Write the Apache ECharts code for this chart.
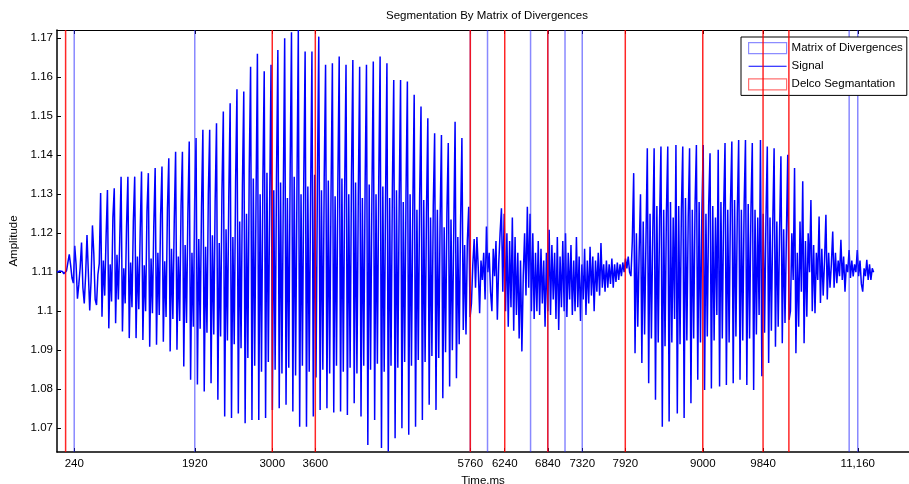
<!DOCTYPE html>
<html>
<head>
<meta charset="utf-8">
<script src="https://cdn.jsdelivr.net/npm/echarts@6/dist/echarts.min.js"></script>
<style>
html,body{margin:0;padding:0;background:#fff;}
#chart{width:909px;height:484px;}
</style>
</head>
<body>
<div id="chart"></div>
<script>
// ---- data ----
const signalStepMs = 19;           // spacing of signal samples (ms)
const signalOnset = [
1.1100,1.1097,1.1103,1.1098,1.1102,1.1096,1.1101,1.1104,
1.1125,1.1146,1.1118,1.1085,1.1072,
1.1168,1.1120,1.1032,1.1068,1.1112,
1.1176,1.1060,1.1020,1.1092,
1.1195,1.1098,1.1002,1.1078,
1.1220,1.1148,1.1030,1.1016,1.1094,1.1122
];
const signalVowel1 = [
1.1303,1.0986,1.1130,1.1040,1.1190,
1.1311,1.0956,1.1120,1.1025,1.1240,
1.1315,1.0969,1.1145,1.1030,1.1180,
1.1345,1.0948,1.1110,1.1020,1.1215,
1.1345,1.0931,1.1125,1.1010,1.1230,
1.1345,1.0931,1.1140,1.1005,1.1200,
1.1358,1.0926,1.1118,1.1000,1.1255,
1.1354,1.0909,1.1135,1.0995,1.1220,
1.1367,1.0914,1.1150,1.0990,1.1245,
1.1371,1.0922,1.1128,1.0985,1.1260,
1.1392,1.0897,1.1160,1.0980,1.1230,
1.1409,1.0901,1.1140,1.0975,1.1270,
1.1409,1.0858,1.1170,1.0970,1.1250,
1.1435,1.0824,1.1150,1.0960,1.1285,
1.1444,1.0812,1.1185,1.0955,1.1265,
1.1465,1.0794,1.1165,1.0945,1.1300,
1.1465,1.0815,1.1195,1.0940,1.1280,
1.1482,1.0773,1.1175,1.0935,1.1310,
1.1512,1.0730,1.1210,1.0925,1.1295,
1.1533,1.0726,1.1190,1.0915,1.1330,
1.1569,1.0738,1.1230,1.0905,1.1320,
1.1563,1.0713,1.1250,1.0880,1.1360,
1.1627,1.0721,1.1340,1.0860,1.1290,
1.1660,1.0721,1.1300,1.0845,1.1330,
1.1615,1.0726,1.1355,1.0870,1.1280,
1.1632,1.0747,1.1310,1.0850,1.1340,
1.1670,1.0751,1.1330,1.0840,1.1300,
1.1700,1.0760,1.1290,1.0855,1.1350,
1.1715,1.0743,1.1345,1.0835,1.1310,
1.1721,1.0704,1.1300,1.0860,1.1335,
1.1666,1.0704,1.1320,1.0845,1.1290,
1.1666,1.0730,1.1350,1.0830,1.1320,
1.1704,1.0747,1.1310,1.0850,1.1340,
1.1632,1.0751,1.1335,1.0840,1.1300,
1.1636,1.0740,1.1295,1.0860,1.1330,
1.1653,1.0743,1.1340,1.0845,1.1310,
1.1632,1.0734,1.1300,1.0855,1.1345,
1.1644,1.0764,1.1330,1.0840,1.1295,
1.1627,1.0730,1.1290,1.0860,1.1320,
1.1632,1.0657,1.1325,1.0850,1.1300,
1.1640,1.0721,1.1300,1.0865,1.1335,
1.1653,1.0649,1.1320,1.0845,1.1290,
1.1636,1.0640,1.1290,1.0860,1.1315,
1.1593,1.0674,1.1310,1.0855,1.1280,
1.1593,1.0700,1.1280,1.0870,1.1300,
1.1589,1.0683,1.1300,1.0860,1.1265,
1.1555,1.0704,1.1260,1.0875,1.1290,
1.1525,1.0721,1.1285,1.0870,1.1250,
1.1495,1.0760,1.1240,1.0885,1.1270,
1.1456,1.0747,1.1260,1.0880,1.1230,
1.1452,1.0777,1.1215,1.0895,1.1250,
1.1431,1.0807,1.1235,1.0900,1.1200,
1.1486,1.0828,1.1190,1.0915,1.1220,
1.1444,1.0952,1.1170,1.0940,1.1180
];
const signalNoise = [
1.1268,1.0985,1.1020,1.1120,1.1185,1.1060,1.1190,1.1110,1.0995,1.1130,
1.1080,1.1150,1.1030,1.1217,1.1100,1.1150,1.1050,1.1000,1.1160,1.1090,
1.1180,1.0978,1.1120,1.1200,1.1264,1.1050,1.1250,1.1000,1.1200,1.0960,
1.1180,1.1010,1.1240,1.0950,1.1190,1.0990,1.1150,1.0930,1.1130,1.0897,
1.1090,1.1200,1.1040,1.1268,1.1060,1.1250,1.1000,1.1200,1.0980,1.1150,
1.1000,1.1180,1.0990,1.1160,1.1020,1.1130,1.0960,1.1150,1.1000,1.1209,
1.0990,1.1170,1.1030,1.1150,1.0980,1.1190,1.0952,1.1140,1.1010,1.1180,
1.1000,1.1200,1.0985,1.1150,1.1030,1.1170,1.0990,1.1130,1.1000,1.1190,
1.1010,1.1140,1.0975,1.1120,1.1030,1.1160,1.0990,1.1130,1.1020,1.1165,
1.1040,1.1140,1.1000,1.1130,1.1050,1.1150,1.1040,1.1175,1.1060,1.1120,
1.1050,1.1130,1.1060,1.1120,1.1070,1.1135,1.1060,1.1120,1.1075,1.1125,
1.1080,1.1120,1.1090,1.1125,1.1100,1.1135,1.1110,1.1140,1.1100
];
const signalVowel2 = [
1.1090,1.1180,
1.1354,1.0892,1.1200,1.0960,1.1150,
1.1300,1.0867,1.1230,1.0940,1.1180,
1.1418,1.0815,1.1250,1.0930,1.1200,
1.1418,1.0773,1.1270,1.0920,1.1230,
1.1422,1.0704,1.1260,1.0910,1.1250,
1.1422,1.0717,1.1280,1.0920,1.1240,1.0980,
1.1426,1.0738,1.1270,1.0915,1.1260,
1.1422,1.0726,1.1290,1.0925,1.1240,
1.1418,1.0764,1.1260,1.0930,1.1270,
1.1426,1.0824,1.1280,1.0920,1.1250,
1.1426,1.0798,1.1250,1.0935,1.1270,
1.1405,1.0802,1.1270,1.0925,1.1240,1.0990,
1.1414,1.0807,1.1280,1.0930,1.1260,
1.1431,1.0811,1.1260,1.0920,1.1275,
1.1435,1.0815,1.1285,1.0935,1.1250,
1.1439,1.0824,1.1260,1.0925,1.1270,
1.1439,1.0811,1.1275,1.0930,1.1255,
1.1431,1.0798,1.1260,1.0940,1.1240,1.0990,
1.1439,1.0833,1.1250,1.0945,1.1230,
1.1422,1.0867,1.1240,1.0950,1.1220,
1.1418,1.0909,1.1230,1.0960,1.1200,
1.1397,1.0918,1.1210,1.0970,1.1190,
1.1401,1.0978
];
const signalTail = [
1.1000,1.1200,1.1080,1.1367,1.0892,1.1150,1.0960,1.1230,1.1050,1.1333,
1.0918,1.1180,1.0986,1.1200,1.1100,1.1285,1.1000,1.1170,1.0995,1.1150,
1.1080,1.1243,1.1021,1.1160,1.1040,1.1130,1.1247,1.1030,1.1150,1.1060,
1.1120,1.1204,1.1060,1.1150,1.1072,1.1130,1.1090,1.1183,1.1080,1.1140,
1.1050,1.1120,1.1100,1.1157,1.1085,1.1130,1.1089,1.1120,1.1100,1.1157,
1.1090,1.1130,1.1070,1.1050,1.1110,1.1090,1.1132,1.1080,1.1120,1.1080,
1.1110,1.1100
];
const matrixDivergenceMs = [240, 1920, 5760, 6000, 6600, 6840, 7080, 7320, 11040, 11160];
const delcoSegmentationMs = [120, 3000, 3600, 5760, 6240, 6840, 7920, 9000, 9840, 10200];
const xTickValues = [240, 1920, 3000, 3600, 5760, 6240, 6840, 7320, 7920, 9000, 9840, 11160];
const xTickLabels = ['240','1920','3000','3600','5760','6240','6840','7320','7920','9000','9840','11,160'];
const yTickValues = [1.07, 1.08, 1.09, 1.10, 1.11, 1.12, 1.13, 1.14, 1.15, 1.16, 1.17];
const xRange = [0, 11874];
const yRange = [1.0639, 1.1721];

// ---- build series data ----
const signalValues = [].concat(signalOnset, signalVowel1, signalNoise, signalVowel2, signalTail);
const signalData = signalValues.map((v, i) => [i * signalStepMs, v]);
function verticalLines(times) {
  const out = [];
  times.forEach(t => { out.push([t, yRange[0]], [t, yRange[1]], [t, '-']); });
  return out;
}

const FONT = 'Liberation Sans, Arial, Helvetica, sans-serif';
const txt = {fontFamily: FONT, fontSize: 11.5, color: '#000'};

const chart = echarts.init(document.getElementById('chart'), null, {renderer: 'canvas'});
chart.setOption({
  animation: false,
  backgroundColor: '#fff',
  title: {
    text: 'Segmentation By Matrix of Divergences',
    left: 487, top: 10, textAlign: 'center', padding: 0,
    textStyle: Object.assign({fontWeight: 'normal'}, txt)
  },
  legend: {
    orient: 'vertical', left: 741, top: 37,
    padding: [5, 4, 5, 7], itemGap: 6, itemWidth: 38, itemHeight: 11,
    borderColor: '#000', borderWidth: 1, backgroundColor: '#fff',
    textStyle: txt,
    data: [
      {name: 'Matrix of Divergences', icon: 'rect', itemStyle: {color: '#fff', borderColor: '#8c8cff', borderWidth: 1.2}},
      {name: 'Signal', icon: 'path://M0,0L40,0L40,1L0,1Z', itemStyle: {color: '#0000ff'}},
      {name: 'Delco Segmantation', icon: 'rect', itemStyle: {color: '#fff', borderColor: '#ff7070', borderWidth: 1.2}}
    ]
  },
  grid: {left: 57, right: 0, top: 30, bottom: 32, outerBoundsMode: 'none', containLabel: false, show: false},
  xAxis: [{
    type: 'value', min: xRange[0], max: xRange[1], position: 'bottom',
    name: 'Time.ms', nameLocation: 'middle', nameGap: 21, nameTextStyle: txt,
    axisLine: {show: true, onZero: false, lineStyle: {color: '#000', width: 1.5}},
    axisTick: {show: true, inside: true, length: 4, customValues: xTickValues, lineStyle: {color: '#000'}},
    axisLabel: Object.assign({customValues: xTickValues, margin: 6,
      formatter: v => xTickLabels[xTickValues.indexOf(v)] || ''}, txt),
    splitLine: {show: false}
  }, {
    type: 'value', min: xRange[0], max: xRange[1], position: 'top',
    axisLine: {show: true, onZero: false, lineStyle: {color: '#000', width: 1}},
    axisTick: {show: true, inside: true, length: 4, customValues: xTickValues, lineStyle: {color: '#000'}},
    axisLabel: {show: false},
    splitLine: {show: false}
  }],
  yAxis: [{
    type: 'value', min: yRange[0], max: yRange[1],
    name: 'Amplitude', nameLocation: 'middle', nameGap: 30, nameTextStyle: txt,
    axisLine: {show: true, onZero: false, lineStyle: {color: '#000', width: 1.5}},
    axisTick: {show: true, inside: true, length: 4, customValues: yTickValues, lineStyle: {color: '#000'}},
    axisLabel: Object.assign({customValues: yTickValues, margin: 4,
      formatter: v => String(parseFloat(Number(v).toFixed(2)))}, txt),
    splitLine: {show: false}
  }],
  series: [{
    name: 'Signal', type: 'line', xAxisIndex: 0, data: signalData,
    showSymbol: false, symbol: 'none', sampling: null, z: 2,
    lineStyle: {color: '#0000ff', width: 1.5},
    itemStyle: {color: '#0000ff'}
  }, {
    name: 'Matrix of Divergences', type: 'line', xAxisIndex: 0, data: verticalLines(matrixDivergenceMs),
    showSymbol: false, symbol: 'none', connectNulls: false, z: 3,
    lineStyle: {color: 'rgba(40,40,255,0.55)', width: 1.5},
    itemStyle: {color: '#8c8cff'}
  }, {
    name: 'Delco Segmantation', type: 'line', xAxisIndex: 0, data: verticalLines(delcoSegmentationMs),
    showSymbol: false, symbol: 'none', connectNulls: false, z: 4,
    lineStyle: {color: 'rgba(255,0,0,0.85)', width: 1.5},
    itemStyle: {color: '#ff7070'}
  }]
});
</script>
</body>
</html>
